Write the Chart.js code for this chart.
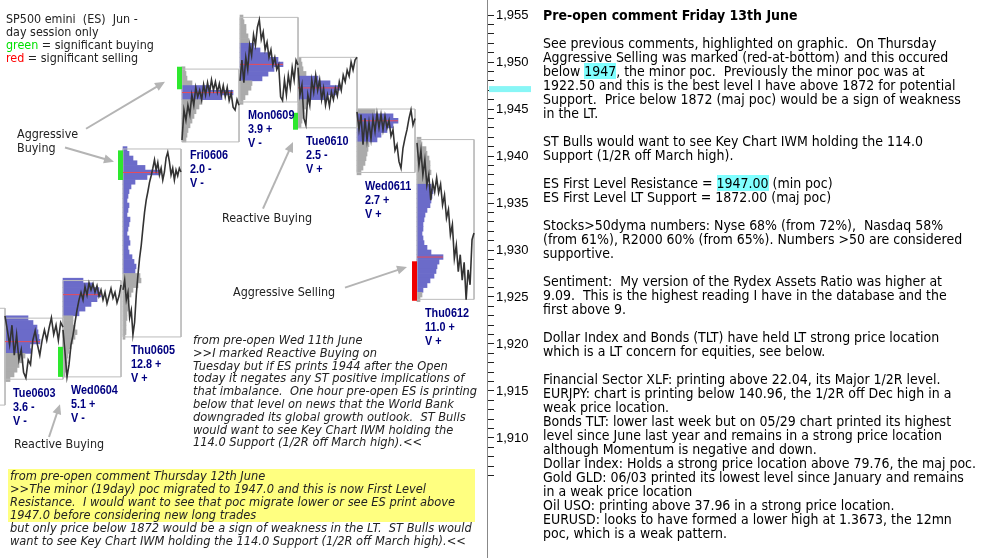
<!DOCTYPE html>
<html><head><meta charset="utf-8">
<script src="https://cdn.jsdelivr.net/npm/chart.js@4.4.1/dist/chart.umd.min.js"></script>
<style>
html,body{margin:0;padding:0;background:#fff;}
#wrap{position:relative;width:982px;height:558px;overflow:hidden;background:#fff;}
#c{position:absolute;left:0;top:0;}
.t{position:absolute;white-space:nowrap;font-family:"DejaVu Sans Condensed","DejaVu Sans",sans-serif;color:#000;}
#panel{left:543px;top:8px;font-size:13px;line-height:14px;}
.hl{background:#80ffff;}
.it{font-style:italic;font-size:11.5px;color:#222;}
#note1{left:193px;top:334px;line-height:12.8px;}
#yel{position:absolute;left:8px;top:469px;width:467px;height:53px;background:#ffff80;}
#note2{left:10px;top:469px;line-height:13px;}
.ann{font-size:11.5px;line-height:13px;color:#222;}
#legend{left:6px;top:12px;}
</style></head>
<body><div id="wrap">
<div id="yel"></div>
<canvas id="c" width="982" height="558"></canvas>
<div id="legend" class="t ann">SP500 emini&nbsp; (ES)&nbsp; Jun -<br>day session only<br><span style="color:#00e000">green</span> = significant buying<br><span style="color:#ff0000">red</span> = significant selling</div>
<div class="t ann a1" style="left:17px;top:127px;line-height:14px">Aggressive<br>Buying</div>
<div class="t ann a1" style="left:222px;top:211px">Reactive Buying</div>
<div class="t ann a1" style="left:233px;top:285px">Aggressive Selling</div>
<div class="t ann a1" style="left:14px;top:437px">Reactive Buying</div>
<div id="note1" class="t it">from pre-open Wed 11th June<br>&gt;&gt;I marked Reactive Buying on<br>Tuesday but if ES prints 1944 after the Open<br>today it negates any ST positive implications of<br>that imbalance.&nbsp; One hour pre-open ES is printing<br>below that level on news that the World Bank<br>downgraded its global growth outlook.&nbsp; ST Bulls<br>would want to see Key Chart IWM holding the<br>114.0 Support (1/2R off March high).&lt;&lt;</div>
<div id="note2" class="t it">from pre-open comment Thursday 12th June<br>&gt;&gt;The minor (19day) poc migrated to 1947.0 and this is now First Level<br>Resistance.&nbsp; I would want to see that poc migrate lower or see ES print above<br>1947.0 before considering new long trades<br>but only price below 1872 would be a sign of weakness in the LT.&nbsp; ST Bulls would<br>want to see Key Chart IWM holding the 114.0 Support (1/2R off March high).&lt;&lt;</div>
<div id="panel" class="t"><b>Pre-open comment Friday 13th June</b><br><br>
See previous comments, highlighted on graphic.&nbsp; On Thursday<br>
Aggressive Selling was marked (red-at-bottom) and this occured<br>
below <span class="hl">1947</span>, the minor poc.&nbsp; Previously the minor poc was at<br>
1922.50 and this is the best level I have above 1872 for potential<br>
Support.&nbsp; Price below 1872 (maj poc) would be a sign of weakness<br>
in the LT.<br><br>
ST Bulls would want to see Key Chart IWM holding the 114.0<br>
Support (1/2R off March high).<br><br>
ES First Level Resistance = <span class="hl">1947.00</span> (min poc)<br>
ES First Level LT Support = 1872.00 (maj poc)<br><br>
Stocks&gt;50dyma numbers: Nyse 68% (from 72%),&nbsp; Nasdaq 58%<br>
(from 61%), R2000 60% (from 65%). Numbers &gt;50 are considered<br>
supportive.<br><br>
Sentiment:&nbsp; My version of the Rydex Assets Ratio was higher at<br>
9.09.&nbsp; This is the highest reading I have in the database and the<br>
first above 9.<br><br>
Dollar Index and Bonds (TLT) have held LT strong price location<br>
which is a LT concern for equities, see below.<br><br>
Financial Sector XLF: printing above 22.04, its Major 1/2R level.<br>
EURJPY: chart is printing below 140.96, the 1/2R off Dec high in a<br>
weak price location.<br>
Bonds TLT: lower last week but on 05/29 chart printed its highest<br>
level since June last year and remains in a strong price location<br>
although Momentum is negative and down.<br>
Dollar Index: Holds a strong price location above 79.76, the maj poc.<br>
Gold GLD: 06/03 printed its lowest level since January and remains<br>
in a weak price location<br>
Oil USO: printing above 37.96 in a strong price location.<br>
EURUSD: looks to have formed a lower high at 1.3673, the 12mn<br>
poc, which is a weak pattern.</div>
</div>
<script>
// ---------- DATA ----------
const days = ['Tue0603','Wed0604','Thu0605','Fri0606','Mon0609','Tue0610','Wed0611','Thu0612'];
const dayStats = ['3.6 -','5.1 +','12.8 +','2.0 -','3.9 +','2.5 -','2.7 +','11.0 +'];
const dayVTags = ['V -','V -','V +','V -','V -','V +','V +','V +'];
// session slots on the time axis
const dayStart = [5, 63, 123, 182, 240, 298, 357, 417];
const dayEnd   = [63, 121, 181, 239, 298, 357, 415, 474];
const dayHigh = [1922.75, 1926.75, 1940.75, 1949.25, 1954.75, 1950.5, 1945.0, 1941.75];
const dayLow  = [1916.25, 1916.5, 1920.75, 1941.5, 1945.75, 1943.0, 1938.25, 1924.75];
const pocs    = [1920.25, 1925.25, 1938.25, 1946.75, 1949.75, 1947.25, 1943.75, 1929.25];
const vaHigh  = [1922.75, 1926.75, 1940.75, 1947.25, 1951.75, 1948.25, 1944.25, 1936.75];
const vaLow   = [1919.25, 1923.25, 1927.75, 1946.25, 1948.25, 1946.25, 1941.75, 1925.75];
const profileTop = [1922.75, 1926.75, 1940.75, 1949.25, 1954.75, 1950.25, 1944.75, 1941.75];
const profileStep = 0.5;
const profTue0603 = [23, 28, 32, 33, 34, 35, 25, 26, 20, 18, 14, 12, 9, 5];
const profWed0604 = [20, 30, 36, 38, 34, 28, 22, 16, 10, 10, 12, 14, 12, 10, 8, 6, 5, 4, 4, 3, 2];
const profThu0605 = [4, 6, 10, 14, 22, 37, 24, 12, 8, 6, 5, 4, 6, 5, 4, 7, 6, 5, 4, 6, 7, 5, 6, 9, 11, 13, 12, 17, 18, 15, 10, 8, 6, 5, 5, 4, 4, 3, 3, 3, 2];
const profFri0606 = [3, 4, 5, 10, 28, 51, 40, 20, 17, 14, 12, 10, 8, 6, 5, 4];
const profMon0609 = [3, 4, 6, 6, 8, 9, 14, 20, 30, 38, 43, 34, 28, 22, 12, 11, 8, 5, 3];
const profTue0610 = [3, 4, 5, 8, 20, 32, 42, 38, 30, 10, 8, 6, 5, 4, 3];
const profWed0611 = [18, 36, 41, 36, 30, 24, 20, 12, 11, 10, 9, 8, 6, 4];
const profThu0612 = [4, 5, 9, 10, 12, 13, 13, 14, 11, 10, 14, 16, 15, 14, 13, 10, 8, 7, 6, 6, 5, 6, 7, 10, 14, 26, 22, 20, 19, 17, 13, 10, 6, 5, 3];
const profiles = [profTue0603, profWed0604, profThu0605, profFri0606, profMon0609, profTue0610, profWed0611, profThu0612];

const pxTue0603 = [1923.0, 1921.5, 1919.9, 1922.0, 1918.8, 1921.0, 1918.3, 1919.4, 1917.0, 1916.4, 1918.3, 1917.8, 1920.4, 1921.4, 1919.9, 1918.8, 1920.4, 1921.5, 1920.4, 1921.7, 1922.8, 1921.0, 1922.0, 1920.4, 1922.3, 1921.8];
const pxWed0604 = [1921.5, 1919.1, 1916.5, 1917.8, 1919.9, 1920.95, 1922.3, 1923.6, 1924.7, 1925.5, 1924.7, 1926.1, 1925.2, 1926.5, 1925.75, 1926.4, 1925.5, 1926.2, 1925.1, 1925.75, 1924.7, 1925.5, 1924.3, 1925.1, 1925.9, 1924.9, 1925.5, 1924.4, 1925.1, 1926.3];
const pxThu0605 = [1925.75, 1926.8, 1924.7, 1925.5, 1922.8, 1923.6, 1921.0, 1922.3, 1925.2, 1927.3, 1929.1, 1930.5, 1932.3, 1934.0, 1935.3, 1936.2, 1937.2, 1937.9, 1938.7, 1939.6, 1938.5, 1939.3, 1938.0, 1938.7, 1937.45, 1938.3, 1939.8, 1940.4, 1939.4, 1938.0, 1938.7, 1937.45, 1938.5, 1937.9, 1938.7, 1938.3];
const pxFri0606 = [1941.7, 1944.9, 1943.8, 1945.4, 1944.4, 1946.5, 1945.4, 1947.3, 1946.3, 1947.0, 1946.0, 1947.6, 1946.5, 1947.8, 1946.7, 1948.1, 1947.0, 1947.9, 1946.8, 1947.7, 1946.5, 1947.5, 1946.3, 1947.3, 1945.9, 1946.7, 1945.2, 1944.9, 1946.0, 1945.4];
const pxMon0609 = [1948.0, 1950.2, 1947.8, 1950.5, 1949.2, 1951.8, 1950.7, 1952.9, 1951.8, 1953.7, 1954.5, 1952.4, 1953.2, 1951.3, 1952.1, 1950.5, 1951.3, 1949.7, 1950.5, 1949.2, 1949.7, 1946.3, 1945.9, 1948.1, 1946.5, 1948.6, 1947.3, 1949.4, 1948.1, 1950.2, 1949.7];
const pxTue0610 = [1949.4, 1946.5, 1947.55, 1944.0, 1943.3, 1946.5, 1945.4, 1948.1, 1946.8, 1948.6, 1947.0, 1948.1, 1946.0, 1947.2, 1945.4, 1946.5, 1945.3, 1946.8, 1946.0, 1947.2, 1946.4, 1947.9, 1947.0, 1948.6, 1947.9, 1949.15, 1948.5, 1950.0, 1949.15, 1950.2, 1950.5];
const pxWed0611 = [1944.7, 1942.8, 1944.4, 1941.2, 1944.0, 1941.7, 1943.6, 1941.8, 1944.0, 1942.6, 1944.5, 1943.0, 1944.4, 1942.8, 1944.25, 1943.0, 1943.8, 1942.1, 1942.8, 1940.6, 1941.2, 1939.4, 1938.7, 1940.85, 1941.9, 1942.8, 1944.0, 1944.9, 1943.3, 1944.0];
const pxThu0612 = [1941.4, 1939.0, 1940.6, 1938.0, 1939.6, 1936.9, 1938.0, 1935.3, 1937.2, 1936.2, 1937.7, 1936.1, 1937.0, 1934.8, 1935.85, 1933.4, 1934.3, 1931.6, 1932.7, 1929.1, 1930.5, 1927.7, 1929.5, 1926.8, 1928.7, 1924.7, 1927.9, 1926.3, 1931.1, 1931.8];
const prices = [pxTue0603, pxWed0604, pxThu0605, pxFri0606, pxMon0609, pxTue0610, pxWed0611, pxThu0612];

// significant buying / selling markers: [day index, from price, to price, kind]
const signalDay  = [1, 2, 3, 5, 7];
const signalFrom = [1916.5, 1937.45, 1947.1, 1942.8, 1924.6];
const signalTo   = [1919.7, 1940.6, 1949.5, 1944.6, 1928.8];
const signalKind = ['buy', 'buy', 'buy', 'buy', 'sell'];

// previous session box (Mon0602), only its right edge is visible
const priorBox = {from: -60, to: 5, high: 1923.8, low: 1913.5};

// annotation arrows: [slotFrom, priceFrom, slotTo, priceTo]
const arrows = [[86, 1942.9, 165, 1947.9], [65, 1940.9, 114, 1939.4], [263, 1934.4, 293, 1941.5], [49, 1910.1, 60, 1913.6], [345, 1926.0, 407, 1928.2]];
const keyLevel = 1947;

const yTickStep = 1, yLabelEvery = 5, yLabelFrom = 1910, yTickFrom = 1906;
const yMax = 1956.6, yMin = 1897.23;

// ---------- BUILD ----------
const BLUE = '#6b6bc9', GRAY = '#ababab';
const datasets = [];
days.forEach((d, i) => {
  const p = prices[i], n = p.length;
  datasets.push({type: 'line', label: d, data: p.map((v, k) => ({x: dayStart[i] + k * (dayEnd[i] - dayStart[i]) / (n - 1), y: v})),
    borderColor: '#333333', borderWidth: 1.6, pointRadius: 0, tension: 0, order: 0});
});
days.forEach((d, i) => {
  const idx = Math.round((profileTop[i] - pocs[i]) / profileStep);
  const w = profiles[i][idx];
  datasets.push({type: 'line', data: [{x: dayStart[i], y: pocs[i]}, {x: dayStart[i] + w, y: pocs[i]}],
    borderColor: '#ec4b55', borderWidth: 1, pointRadius: 0, order: 1});
});
signalDay.forEach((di, k) => {
  datasets.push({type: 'line', data: [{x: dayStart[di] - 2.5, y: signalFrom[k]}, {x: dayStart[di] - 2.5, y: signalTo[k]}],
    borderColor: signalKind[k] === 'buy' ? '#2ee82e' : '#f00000', borderWidth: 5, borderCapStyle: 'butt', pointRadius: 0, order: 2});
});
const boxData = (a, b, h, l) => [{x: a, y: h}, {x: b, y: h}, {x: b, y: l}, {x: a, y: l}, {x: a, y: h}];
days.forEach((d, i) => {
  datasets.push({type: 'line', data: boxData(dayStart[i], dayEnd[i], dayHigh[i], dayLow[i]),
    borderColor: '#bcbcbc', borderWidth: 1, pointRadius: 0, tension: 0, order: 3});
});
datasets.push({type: 'line', data: boxData(priorBox.from, priorBox.to, priorBox.high, priorBox.low),
  borderColor: '#bcbcbc', borderWidth: 1, pointRadius: 0, tension: 0, order: 3});

const profData = [], profColors = [];
profiles.forEach((arr, i) => {
  arr.forEach((w, k) => {
    const lvl = profileTop[i] - k * profileStep;
    profData.push({y: lvl, x: [dayStart[i], dayStart[i] + w]});
    profColors.push(lvl <= vaHigh[i] + 1e-9 && lvl >= vaLow[i] - 1e-9 ? BLUE : GRAY);
  });
});
datasets.push({type: 'bar', indexAxis: 'y', data: profData, backgroundColor: profColors, borderWidth: 0,
  barPercentage: 1, categoryPercentage: 1, grouped: false, order: 4});

const LABEL_FONT = '"Liberation Sans", Arial, sans-serif';
const overlay = {
  id: 'overlay',
  afterDatasetsDraw(chart) {
    const ctx = chart.ctx, xs = chart.scales.x, ys = chart.scales.y;
    ctx.save();
    ctx.strokeStyle = '#b4b4b4'; ctx.fillStyle = '#b4b4b4'; ctx.lineWidth = 2;
    arrows.forEach(a => {
      const x1 = xs.getPixelForValue(a[0]), y1 = ys.getPixelForValue(a[1]);
      const x2 = xs.getPixelForValue(a[2]), y2 = ys.getPixelForValue(a[3]);
      const ang = Math.atan2(y2 - y1, x2 - x1), L = 10, W = 4.5;
      ctx.beginPath(); ctx.moveTo(x1, y1); ctx.lineTo(x2 - L * 0.7 * Math.cos(ang), y2 - L * 0.7 * Math.sin(ang)); ctx.stroke();
      ctx.beginPath(); ctx.moveTo(x2, y2);
      ctx.lineTo(x2 - L * Math.cos(ang) + W * Math.sin(ang), y2 - L * Math.sin(ang) - W * Math.cos(ang));
      ctx.lineTo(x2 - L * Math.cos(ang) - W * Math.sin(ang), y2 - L * Math.sin(ang) + W * Math.cos(ang));
      ctx.closePath(); ctx.fill();
    });
    ctx.font = 'bold 12.5px ' + LABEL_FONT;
    const sx = 44 / ctx.measureText('Thu0605').width;
    ctx.fillStyle = '#000080'; ctx.textBaseline = 'middle'; ctx.textAlign = 'left';
    days.forEach((d, i) => {
      const x = xs.getPixelForValue(dayStart[i]) + 8, y = ys.getPixelForValue(dayLow[i]) + 14;
      [d, dayStats[i], dayVTags[i]].forEach((t, k) => {
        ctx.save(); ctx.translate(x, y + k * 14); ctx.scale(sx, 1); ctx.fillText(t, 0, 0); ctx.restore();
      });
    });
    ctx.restore();
  },
  afterDraw(chart) {
    const ctx = chart.ctx, ys = chart.scales.y, r = chart.chartArea.right;
    ctx.save(); ctx.fillStyle = '#88f6f6';
    const y = ys.getPixelForValue(keyLevel + 0.12);
    ctx.fillRect(r + 2, y - 3, 42, 6);
    ctx.restore();
  }
};

new Chart(document.getElementById('c'), {
  type: 'line',
  data: {datasets},
  options: {
    responsive: false, animation: false, events: [],
    layout: {padding: {left: 0, top: 0, bottom: 0, right: 440}},
    plugins: {legend: {display: false}, tooltip: {enabled: false}},
    scales: {
      x: {type: 'linear', min: 0, max: 487, display: false, offset: false},
      y: {type: 'linear', position: 'right', min: yMin, max: yMax, offset: false,
        grid: {drawOnChartArea: false, tickLength: 7, color: '#222', offset: false},
        border: {color: '#888', width: 1},
        ticks: {stepSize: yTickStep, autoSkip: false, maxTicksLimit: 500, padding: 2, color: '#000',
          font: {family: LABEL_FONT, size: 13},
          callback: (v) => {
            const r = Math.round(v);
            if (Math.abs(v - r) > 1e-6 || r < yTickFrom) return null;
            return (r % yLabelEvery === 0 && r >= yLabelFrom) ? r.toLocaleString('en-US') : '';
          }},
        afterFit: (s) => { s.width = 55; s.paddingTop = 0; s.paddingBottom = 0; }
      }
    }
  },
  plugins: [overlay]
});

// fit text blocks to the widths seen in the reference
function fit(el, target) {
  const w = el.getBoundingClientRect().width;
  const fs = parseFloat(getComputedStyle(el).fontSize);
  el.style.fontSize = (fs * target / w).toFixed(2) + 'px';
}
fit(document.getElementById('panel'), 433);
fit(document.getElementById('note1'), 284);
fit(document.getElementById('note2'), 462);
fit(document.getElementById('legend'), 148);
const lf = document.getElementById('legend').style.fontSize;
document.querySelectorAll('.a1').forEach(e => e.style.fontSize = lf);
</script>
</body></html>
